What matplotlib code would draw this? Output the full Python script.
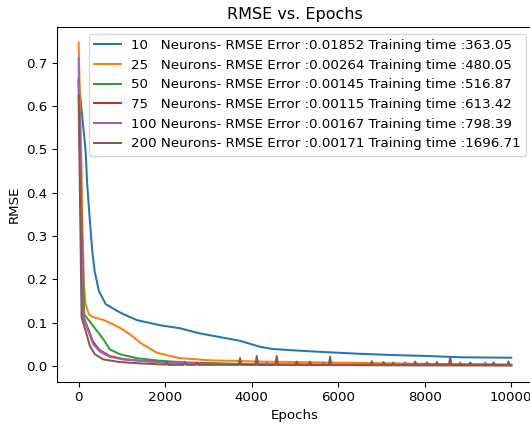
import matplotlib
matplotlib.use("Agg")
import matplotlib.pyplot as plt

# neurons per hidden layer, final error and training time (legend text)
neurons = [10, 25, 50, 75, 100, 200]
final_err = ["0.01852", "0.00264", "0.00145", "0.00115", "0.00167", "0.00171"]
train_time = ["363.05", "480.05", "516.87", "613.42", "798.39", "1696.71"]

# RMSE curves (epoch, rmse)
ep_10 = [0, 80, 162, 199, 254, 315, 370, 470, 624, 893, 1048, 1342, 1880, 2343,
         2806, 3300, 3731, 4000, 4200, 4500, 4964, 5500, 6507, 7300, 8050, 8820, 9999]
rmse_10 = [0.660, 0.580, 0.497, 0.420, 0.343, 0.266, 0.219, 0.173, 0.143, 0.127,
           0.119, 0.106, 0.094, 0.087, 0.075, 0.066, 0.058, 0.050, 0.044, 0.039,
           0.036, 0.033, 0.028, 0.025, 0.023, 0.020, 0.019]

ep_25 = [0, 60, 85, 123, 162, 238, 354, 585, 955, 1187, 1418, 1650, 1800, 2112,
         2343, 3037, 4194, 6507, 8000, 9999]
rmse_25 = [0.747, 0.497, 0.343, 0.189, 0.143, 0.119, 0.112, 0.106, 0.088, 0.073,
           0.054, 0.040, 0.031, 0.023, 0.018, 0.013, 0.010, 0.007, 0.005, 0.003]

ep_50 = [0, 50, 130, 338, 570, 724, 955, 1342, 1880, 2500, 4000, 6500, 9999]
rmse_50 = [0.655, 0.400, 0.119, 0.092, 0.062, 0.038, 0.027, 0.018, 0.012, 0.008,
           0.004, 0.002, 0.0015]

ep_75 = [0, 50, 110, 222, 338, 493, 724, 1032, 1418, 2000, 3000, 5000, 9999]
rmse_75 = [0.663, 0.400, 0.115, 0.085, 0.055, 0.036, 0.023, 0.016, 0.012, 0.008,
           0.005, 0.002, 0.0012]

ep_100 = [0, 45, 106, 222, 338, 493, 724, 1032, 1418, 2000, 3000, 5000, 9999]
rmse_100 = [0.712, 0.400, 0.112, 0.081, 0.050, 0.033, 0.021, 0.015, 0.012, 0.008,
            0.005, 0.003, 0.0017]

ep_200 = [0, 30, 69, 185, 261, 377, 570, 955, 1400, 2000, 9999]
rmse_200 = [0.624, 0.400, 0.112, 0.073, 0.046, 0.027, 0.015, 0.009, 0.006, 0.003, 0.0017]

# short spikes late in training
spike_ep_200 = [2035, 2459, 2729, 3731, 4117, 4580, 5043, 5350, 5813, 6778, 7046,
                7277, 7779, 8050, 8281, 8589, 9052, 9590, 9937]
spike_val_200 = [0.010, 0.010, 0.008, 0.018, 0.023, 0.023, 0.010, 0.010, 0.021, 0.011,
                 0.009, 0.008, 0.010, 0.008, 0.009, 0.020, 0.008, 0.008, 0.010]
spike_base_200 = 0.0025

spike_ep_100 = [4349, 5658, 7548, 8820, 9398]
spike_val_100 = [0.008, 0.008, 0.008, 0.008, 0.008]
spike_base_100 = 0.003


def add_spikes(ep, val, s_ep, s_val, base, half=30):
    pts = list(zip(ep, val))
    for e, v in zip(s_ep, s_val):
        pts += [(e - half, base), (e, v), (e + half, base)]
    pts.sort()
    return [p[0] for p in pts], [p[1] for p in pts]


ep_100, rmse_100 = add_spikes(ep_100, rmse_100, spike_ep_100, spike_val_100, spike_base_100)
ep_200, rmse_200 = add_spikes(ep_200, rmse_200, spike_ep_200, spike_val_200, spike_base_200)

curves = [(ep_10, rmse_10), (ep_25, rmse_25), (ep_50, rmse_50),
          (ep_75, rmse_75), (ep_100, rmse_100), (ep_200, rmse_200)]

# reference looks like a default figure shrunk a little, so use dpi 96
fig = plt.figure(figsize=(530 / 96, 431 / 96), dpi=96)
ax = fig.add_axes([0.1075, 0.1148, 0.898, 0.8226])

for n, err, t, (x, y) in zip(neurons, final_err, train_time, curves):
    pad = " " * (3 if n < 100 else 1)
    label = f"{n}{pad}Neurons- RMSE Error :{err} Training time :{t}"
    ax.plot(x, y, label=label)

ax.set_xlim(-500, 10500)
ax.set_ylim(-0.036, 0.783)
ax.set_title("RMSE vs. Epochs")
ax.set_xlabel("Epochs")
ax.set_ylabel("RMSE")
ax.legend(loc="upper right")

fig.savefig("out.png", dpi=96)
